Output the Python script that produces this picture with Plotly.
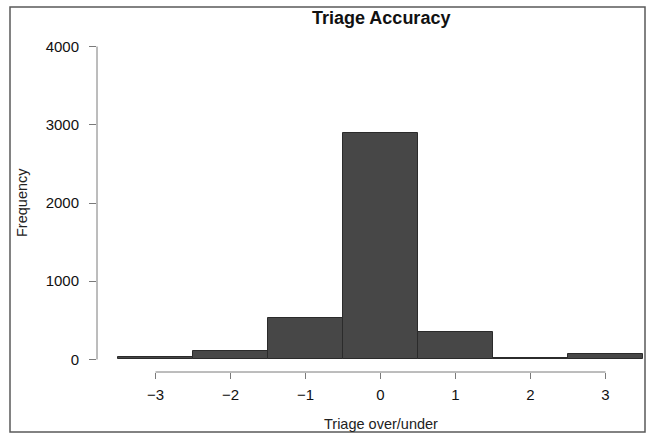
import plotly.graph_objects as go

# Data
bin_centers = [-3, -2, -1, 0, 1, 2, 3]
frequencies = [35, 105, 528, 2890, 348, 20, 65]
x_ticks = [-3, -2, -1, 0, 1, 2, 3]
x_tick_labels = ["\u22123", "\u22122", "\u22121", "0", "1", "2", "3"]
y_ticks = [0, 1000, 2000, 3000, 4000]
y_tick_labels = ["0", "1000", "2000", "3000", "4000"]

FONT = "Liberation Sans, Arial, Helvetica, sans-serif"
W, H = 646, 434
ML, MT, MR, MB = 97, 34, 0, 62
PW, PH = W - ML - MR, H - MT - MB

def px_x(p):
    return (p - ML) / PW

def px_y(p):
    return (H - MB - p) / PH

fig = go.Figure()
fig.add_trace(go.Bar(
    x=bin_centers, y=frequencies, width=1,
    marker=dict(color="#474747", line=dict(color="#2b2b2b", width=1)),
    showlegend=False, hoverinfo="x+y",
))

axis_col = "#7a7a7a"
tick_font = dict(family=FONT, size=15, color="#111111")
fig.update_layout(
    width=W, height=H,
    margin=dict(l=ML, r=MR, t=MT, b=MB, pad=0),
    paper_bgcolor="white", plot_bgcolor="white",
    font=dict(family=FONT, color="#222222", size=13),
    bargap=0,
    xaxis=dict(
        range=[-3.78, 3.54], tickmode="array", tickvals=x_ticks, ticktext=x_tick_labels,
        ticks="outside", ticklen=6, tickwidth=1, tickcolor=axis_col,
        showgrid=False, zeroline=False, showline=False,
        tickfont=tick_font, ticklabelstandoff=3,
    ),
    yaxis=dict(
        range=[-160, 4160], tickmode="array", tickvals=y_ticks, ticktext=y_tick_labels,
        ticks="outside", ticklen=7, tickwidth=1, tickcolor=axis_col,
        showgrid=False, zeroline=False, showline=False,
        tickfont=tick_font, ticklabelstandoff=7,
    ),
)

# R-style axis lines spanning only the tick range
fig.add_shape(type="line", xref="x", yref="paper",
              x0=min(x_ticks), x1=max(x_ticks), y0=0, y1=0,
              line=dict(color=axis_col, width=1))
fig.add_shape(type="line", xref="paper", yref="y",
              x0=0, x1=0, y0=min(y_ticks), y1=max(y_ticks),
              line=dict(color=axis_col, width=1))

# Outer border of the figure
fig.add_shape(type="rect", xref="paper", yref="paper",
              x0=px_x(10), x1=px_x(645), y0=px_y(432), y1=px_y(7),
              line=dict(color="#5a5a5a", width=1.5), fillcolor="rgba(0,0,0,0)")

# Titles
fig.add_annotation(text="<b>Triage Accuracy</b>", xref="x", yref="paper",
                   x=0, y=px_y(18), showarrow=False,
                   font=dict(family=FONT, size=18, color="#111111"),
                   xanchor="center", yanchor="middle")
fig.add_annotation(text="Triage over/under", xref="x", yref="paper",
                   x=0, y=px_y(424), showarrow=False,
                   font=dict(family=FONT, size=14.5, color="#222222"),
                   xanchor="center", yanchor="middle")
fig.add_annotation(text="Frequency", xref="paper", yref="paper",
                   x=px_x(22), y=0.5, showarrow=False, textangle=-90,
                   font=dict(family=FONT, size=14.5, color="#222222"),
                   xanchor="center", yanchor="middle")

fig.write_html("out.html", config={"displayModeBar": False},
               post_script="document.body.style.margin='0';document.body.style.overflow='hidden';")
